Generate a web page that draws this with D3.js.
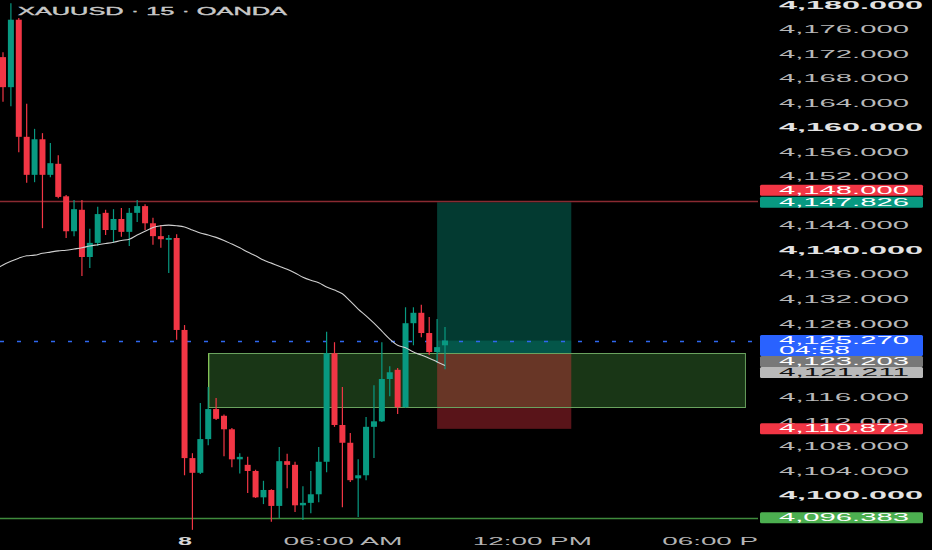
<!DOCTYPE html>
<html><head><meta charset="utf-8">
<script src="https://cdn.jsdelivr.net/npm/d3@7"></script>
<style>html,body{margin:0;padding:0;background:#000;overflow:hidden}</style>
</head><body>
<svg id="c" width="932" height="550"></svg>
<script>
// ---------------- DATA ----------------
const title = "XAUUSD · 15 · OANDA";
const opens  = [4171.5,4166.6,4177.6,4158.5,4152.3,4158.1,4152.3,4154.1,4148.8,4143.1,4146.6,4138.9,4141.2,4146.1,4143.3,4145.1,4143.0,4146.1,4147.2,4144.4,4142.3,4141.7,4142.0,4127.0,4106.1,4103.7,4109.2,4114.1,4113.0,4110.8,4105.9,4105.0,4104.0,4099.7,4100.9,4098.3,4105.6,4105.0,4098.4,4098.8,4100.2,4105.5,4123.2,4111.5,4108.6,4102.8,4103.3,4111.2,4112.1,4119.0,4120.5,4114.4,4128.1,4129.8,4126.5,4123.4,4124.5];
const highs  = [4172.3,4180.3,4177.9,4163.9,4159.8,4159.1,4157.5,4155.5,4149.0,4148.2,4148.2,4143.5,4147.1,4146.6,4146.7,4146.9,4146.9,4148.2,4147.5,4145.3,4144.1,4142.5,4142.6,4127.8,4106.9,4115.1,4117.7,4115.9,4113.2,4111.0,4106.9,4106.3,4104.2,4102.4,4101.0,4107.9,4106.8,4105.5,4101.5,4104.0,4107.9,4126.7,4125.0,4117.7,4110.2,4105.9,4112.8,4118.0,4125.0,4121.1,4120.8,4130.7,4130.7,4131.1,4129.1,4128.8,4127.5];
const lows   = [4164.2,4163.5,4156.0,4151.0,4151.1,4143.6,4151.9,4148.5,4142.0,4142.3,4135.8,4137.1,4140.7,4142.5,4141.2,4142.2,4140.7,4144.6,4143.3,4140.9,4140.4,4136.3,4125.4,4103.3,4094.4,4103.5,4108.2,4112.3,4106.4,4104.6,4103.6,4100.4,4099.6,4098.6,4095.7,4096.3,4101.2,4097.3,4096.0,4097.1,4098.9,4103.8,4111.2,4098.1,4102.2,4096.5,4102.5,4106.1,4112.0,4116.2,4113.3,4114.3,4124.5,4125.8,4122.9,4121.6,4120.6];
const closes = [4166.6,4177.6,4158.5,4152.3,4158.1,4152.3,4154.2,4148.7,4143.1,4146.7,4138.9,4141.2,4145.9,4143.3,4145.1,4143.0,4146.1,4147.2,4144.4,4142.3,4141.8,4142.0,4127.0,4106.1,4103.7,4109.2,4114.1,4112.5,4110.8,4105.9,4106.3,4104.0,4099.7,4100.9,4098.3,4105.6,4105.0,4098.4,4098.8,4100.2,4105.5,4123.2,4111.5,4108.6,4102.5,4103.3,4111.2,4112.1,4119.0,4120.1,4114.4,4128.1,4129.8,4126.5,4123.4,4124.2,4125.27];
// moving average, first value belongs to the bar before the first visible candle
const maValues = [4136.8,4137.6,4138.2,4138.7,4139.1,4139.2,4139.5,4139.7,4139.9,4140.0,4140.2,4140.4,4140.7,4140.9,4141.1,4141.3,4141.6,4141.8,4142.5,4143.1,4143.7,4144.0,4144.1,4144.0,4143.8,4143.3,4142.8,4142.5,4142.1,4141.6,4141.0,4140.4,4139.7,4139.1,4138.4,4137.9,4137.4,4136.9,4136.3,4135.6,4135.1,4134.7,4134.0,4133.5,4132.9,4131.7,4130.4,4129.3,4128.1,4126.8,4125.5,4124.5,4124.1,4123.4,4122.9,4122.4,4121.8,4121.2];
const priceTicks = [4180,4176,4172,4168,4164,4160,4156,4152,4148,4144,4140,4136,4132,4128,4124,4120,4116,4112,4108,4104,4100,4096];
const timeTickLabels = ["8","06:00 AM","12:00 PM","06:00 PM"];
const timeTickBars = [23,43,67,91];
const resistanceLevel = 4148.000;
const supportLevel = 4096.383;
const lastPrice = 4125.270;
const countdown = "04:58";
const zoneTop = 4123.203, zoneBottom = 4114.4;
const zoneBars = [26, 94];
const entryPrice = 4123.203, takeProfit = 4147.826, stopLoss = 4110.872;
const positionBars = [55, 72];
const maLast = 4121.211;

// ---------------- SETUP ----------------
const svg = d3.select("#c");
const FONT = "'Liberation Sans', Arial, sans-serif";
const plotRight = 758;
const x = d3.scaleLinear().domain([0, 56]).range([3, 445]);
const y = d3.scaleLinear().domain([4100, 4180]).range([495.5, 5]);
const fmt = d3.format(",.3f");
const UP = "#089981", DOWN = "#f23645";

svg.append("rect").attr("width", 932).attr("height", 550).attr("fill", "#000");

svg.append("defs").append("clipPath").attr("id", "plotclip")
  .append("rect").attr("x", 0).attr("y", 0).attr("width", plotRight).attr("height", 550);

const plot = svg.append("g").attr("clip-path", "url(#plotclip)");

// Zone rectangle fill
const zx0 = x(zoneBars[0]), zx1 = x(zoneBars[1]);
plot.append("rect").attr("x", zx0).attr("y", y(zoneTop)).attr("width", zx1 - zx0)
  .attr("height", y(zoneBottom) - y(zoneTop)).attr("fill", "rgba(70,150,60,0.36)");

// Long position tool
const px0 = x(positionBars[0]), px1 = x(positionBars[1]);
plot.append("rect").attr("x", px0).attr("y", y(takeProfit)).attr("width", px1 - px0)
  .attr("height", y(entryPrice) - y(takeProfit)).attr("fill", "rgba(8,153,129,0.38)");
plot.append("rect").attr("x", px0).attr("y", y(lastPrice)).attr("width", px1 - px0)
  .attr("height", y(entryPrice) - y(lastPrice)).attr("fill", "rgba(8,153,129,0.3)");
plot.append("rect").attr("x", px0).attr("y", y(entryPrice)).attr("width", px1 - px0)
  .attr("height", y(stopLoss) - y(entryPrice)).attr("fill", "rgba(242,54,69,0.37)");

// Zone border
plot.append("rect").attr("x", zx0 + 0.5).attr("y", Math.round(y(zoneTop)) + 0.5).attr("width", zx1 - zx0)
  .attr("height", Math.round(y(zoneBottom) - y(zoneTop))).attr("fill", "none")
  .attr("stroke", "#6aa35f").attr("stroke-width", 1);
plot.append("line").attr("x1", zx0 + 0.5).attr("x2", zx0 + 0.5)
  .attr("y1", y(zoneTop)).attr("y2", y(zoneBottom)).attr("stroke", "#8fd05a").attr("stroke-width", 1);

// Horizontal levels
plot.append("line").attr("x1", 0).attr("x2", plotRight + 2).attr("y1", Math.round(y(resistanceLevel)) + 0.5)
  .attr("y2", Math.round(y(resistanceLevel)) + 0.5).attr("stroke", "#8a2a31").attr("stroke-width", 1.3);
plot.append("line").attr("x1", 0).attr("x2", plotRight + 2).attr("y1", Math.round(y(supportLevel)) + 0.5)
  .attr("y2", Math.round(y(supportLevel)) + 0.5).attr("stroke", "#3f8a3c").attr("stroke-width", 1.3);
plot.append("line").attr("x1", 0).attr("x2", plotRight).attr("y1", Math.round(y(lastPrice)) + 0.5)
  .attr("y2", Math.round(y(lastPrice)) + 0.5).attr("stroke", "#2f67f0").attr("stroke-width", 1.4)
  .attr("stroke-dasharray", "4,13");

// Candles
const candles = opens.map((o, i) => ({ i, o, h: highs[i], l: lows[i], c: closes[i] }));
const bw = 6;
plot.append("g").selectAll("line").data(candles).join("line")
  .attr("x1", d => x(d.i)).attr("x2", d => x(d.i))
  .attr("y1", d => y(d.h)).attr("y2", d => y(d.l))
  .attr("stroke", d => d.c >= d.o ? UP : DOWN).attr("stroke-width", 1.2);
plot.append("g").selectAll("rect").data(candles).join("rect")
  .attr("x", d => x(d.i) - bw / 2).attr("width", bw)
  .attr("y", d => y(Math.max(d.o, d.c)))
  .attr("height", d => Math.max(1.2, Math.abs(y(d.o) - y(d.c))))
  .attr("fill", d => d.c >= d.o ? UP : DOWN);

// Moving average
plot.append("path").datum(maValues)
  .attr("d", d3.line().x((d, k) => x(k - 1)).y(d => y(d)).curve(d3.curveMonotoneX))
  .attr("fill", "none").attr("stroke", "#cfcfcf").attr("stroke-width", 1.1);

// Title
svg.append("text").attr("x", 18).attr("y", 15).text(title)
  .attr("font-family", FONT).attr("font-size", 11).attr("fill", "#c8c8c8")
  .attr("stroke", "#c8c8c8").attr("stroke-width", 0.35)
  .attr("textLength", 269).attr("lengthAdjust", "spacingAndGlyphs");

// Time axis
const tAxis = d3.axisBottom(x).tickValues(timeTickBars)
  .tickFormat((d, i) => timeTickLabels[i]).tickSize(0).tickPadding(0);
const tg = svg.append("g").attr("clip-path", "url(#plotclip)")
  .append("g").attr("transform", "translate(0,537)").call(tAxis);
tg.select(".domain").remove();
tg.selectAll("text").attr("font-family", FONT).attr("font-size", 11)
  .attr("fill", (d, i) => i === 0 ? "#d6d6d6" : "#b4b4b4")
  .attr("font-weight", (d, i) => i === 0 ? "bold" : "normal")
  .attr("textLength", (d, i) => i === 0 ? 14 : 119).attr("lengthAdjust", "spacingAndGlyphs");

// Price labels with collision handling
const priceLabels = [
  { price: takeProfit, lines: [fmt(takeProfit)], bg: UP, fg: "#fff", fixed: true },
  { price: lastPrice, lines: [fmt(lastPrice), countdown], bg: "#2962ff", fg: "#fff", fixed: true },
  { price: resistanceLevel, lines: [fmt(resistanceLevel)], bg: DOWN, fg: "#fff" },
  { price: entryPrice, lines: [fmt(entryPrice)], bg: "#787878", fg: "#fff" },
  { price: maLast, lines: [fmt(maLast)], bg: "#b9b9b9", fg: "#111" },
  { price: stopLoss, lines: [fmt(stopLoss)], bg: DOWN, fg: "#fff" },
  { price: supportLevel, lines: [fmt(supportLevel)], bg: "#4caf50", fg: "#fff" }
];
const LH = 10.5;
const placed = [];
priceLabels.forEach(l => { l.h = LH * l.lines.length + (l.lines.length > 1 ? 0 : 0.5); l.top = y(l.price) - 5.5; });
priceLabels.filter(l => l.fixed).forEach(l => placed.push(l));
priceLabels.filter(l => !l.fixed).sort((a, b) => b.price - a.price).forEach(l => {
  let moved = true, guard = 0;
  while (moved && guard++ < 10) {
    moved = false;
    for (const p of placed) {
      if (l.top < p.top + p.h && l.top + l.h > p.top) {
        if (l.price > p.price) l.top = p.top - l.h - 1; else l.top = p.top + p.h;
        moved = true;
      }
    }
  }
  placed.push(l);
});

// Price axis (ticks hidden where a price label covers them)
const visibleTicks = priceTicks.filter(t => !priceLabels.some(l => y(t) >= l.top && y(t) <= l.top + l.h));
const pAxis = d3.axisRight(y).tickValues(visibleTicks).tickFormat(fmt).tickSize(0).tickPadding(0);
const pg = svg.append("g").attr("transform", "translate(779,0)").call(pAxis);
pg.select(".domain").remove();
pg.selectAll("text").attr("font-family", FONT).attr("font-size", 10)
  .attr("fill", d => d % 20 === 0 ? "#e2e2e2" : "#b8b8b8")
  .attr("font-weight", d => d % 20 === 0 ? "bold" : "normal")
  .attr("textLength", d => d % 20 === 0 ? 144 : 130).attr("lengthAdjust", "spacingAndGlyphs");

const lg = svg.append("g");
priceLabels.forEach(l => {
  lg.append("rect").attr("x", 760).attr("y", l.top).attr("width", 163).attr("height", l.h)
    .attr("rx", 1.5).attr("fill", l.bg);
  l.lines.forEach((t, k) => {
    const len = t.length > 6 ? 130 : 71;
    lg.append("text").attr("x", 779).attr("y", l.top + 8.8 + k * LH).text(t)
      .attr("font-family", FONT).attr("font-size", 10).attr("fill", l.fg)
      .attr("textLength", len).attr("lengthAdjust", "spacingAndGlyphs");
  });
});
</script>
</body></html>
